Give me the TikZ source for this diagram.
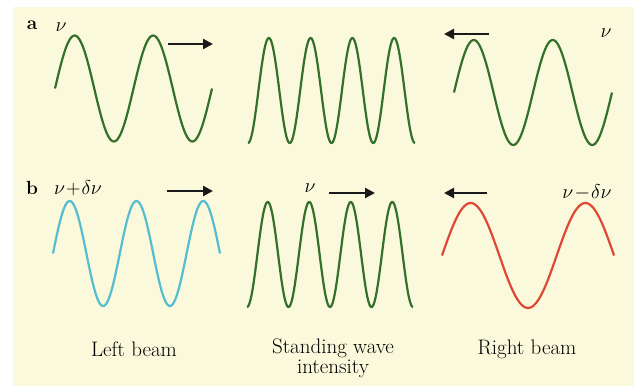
\RequirePackage{fix-cm}
\documentclass[tikz,border=0pt]{standalone}
\usepackage{tikz}
\usetikzlibrary{
    arrows.meta,
    positioning
}
\usepackage{amsmath,amssymb}

\definecolor{paper}{RGB}{251,249,220}
\definecolor{wavegreen}{RGB}{52,112,42}
\definecolor{waveblue}{RGB}{86,188,208}
\definecolor{wavered}{RGB}{222,72,52}

\begin{document}
\begin{tikzpicture}[
    x=1pt,
    y=-1pt,
    every node/.style={
        font=\fontsize{20pt}{22pt}\selectfont
    },
    wave/.style={
        line width=2.2pt,
        draw=wavegreen,
        line join=round
    },
    leftwave/.style={
        wave,
        draw=waveblue
    },
    rightwave/.style={
        wave,
        draw=wavered
    },
    motion/.style={
        -{Triangle[length=10pt,width=10pt]},
        line width=2.2pt,
        draw=black!90
    },
    panel/.style={
        font=\fontsize{19pt}{21pt}\selectfont\bfseries,
        inner sep=0pt
    },
    freq/.style={
        inner sep=0pt
    },
    caption/.style={
        font=\fontsize{21pt}{20pt}\selectfont,
        align=center,
        inner sep=0pt
    }
]

\useasboundingbox (0,0) rectangle (634,386);
\fill[white] (0,0) rectangle (634,386);
\fill[paper] (13,7) rectangle (634,386);

% ===========================================================
% ROW a: equal frequencies
% ===========================================================

\node[panel] (pa) at (32,25) {a};
\node[freq] (nuaL) at (61,27) {$\nu$};
\node[freq] (nuaR) at (606,33) {$\nu$};

% left beam
\draw[wave] plot[domain=0:720, samples=121]
    ({55+\x/360*78.5}, {88.5-53*sin(\x)});
% standing wave
\draw[wave] plot[domain=0:1440, samples=241]
    ({248+\x/360*41.75}, {90.5+52.5*cos(\x)});
% right beam
\draw[wave] plot[domain=0:720, samples=121]
    ({454+\x/360*79}, {92.5-52.5*sin(\x)});

\draw[motion] (168,44) -- (213,44);
\draw[motion] (489,34) -- (444,34);

% ===========================================================
% ROW b: shifted frequencies
% ===========================================================

\node[panel] (pb) at (32,188) {b};
\node[freq] (nubL) at (78,188) {$\nu\!+\!\delta\nu$};
\node[freq] (nubM) at (310,188) {$\nu$};
\node[freq] (nubR) at (587,192) {$\nu\!-\!\delta\nu$};

% left beam
\draw[leftwave] plot[domain=0:900, samples=151]
    ({53+\x/360*66.8}, {253.5-52.5*sin(\x)});
% standing wave
\draw[wave] plot[domain=0:1440, samples=241]
    ({247+\x/360*41.5}, {254.5+52.5*cos(\x)});
% right beam
\draw[rightwave] plot[domain=0:540, samples=91]
    ({442+\x/360*114.7}, {255.5-52.5*sin(\x)});

\draw[motion] (167,191) -- (213,191);
\draw[motion] (329,193) -- (375,193);
\draw[motion] (487,193) -- (444,193);

% Captions
\node[caption] (capL) at (134,349) {Left beam};
\node[caption] (capM) at (333,358) {Standing wave\\intensity};
\node[caption] (capR) at (527,349) {Right beam};

\end{tikzpicture}
\end{document}
